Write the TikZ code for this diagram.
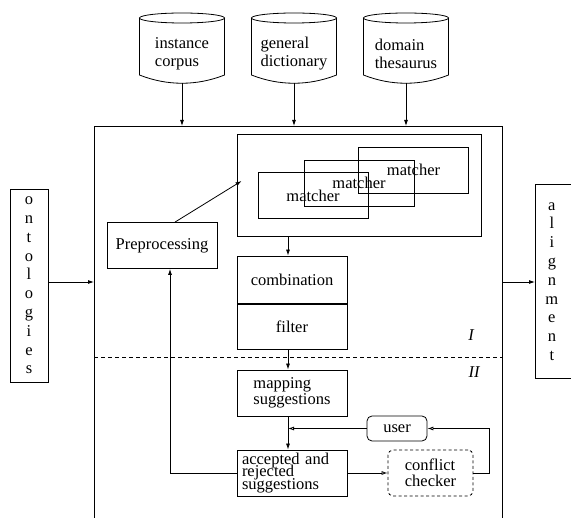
\documentclass[tikz,border=0pt]{standalone}
\usepackage{fontspec}
\setmainfont{Liberation Serif}
\usetikzlibrary{arrows.meta,calc}
\newcommand{\figfont}{\fontsize{16.5}{18}\selectfont}

\begin{document}
\begin{tikzpicture}[x=1pt,y=-1pt,line width=0.8pt,
    >={Latex[length=6pt,width=4pt]},
    every node/.style={font=\figfont},
    stage/.style={draw,inner sep=0pt,minimum width=110,minimum height=46,align=center},
    matcherbox/.style={draw,inner sep=0pt,minimum width=110,minimum height=46},
    vertbox/.style={align=center,font=\fontsize{16.5}{18.8}\selectfont},
    fb/.style={-{Latex[open,length=6pt,width=4pt]}}]
  \useasboundingbox (0,0) rectangle (571,518);

  % knowledge sources
  \foreach \cx/\name/\txt in {182/corpus/{instance\\corpus},294/dict/{general\\dictionary},406/thes/{domain\\thesaurus}}{
    \draw ({\cx-42.5},18) -- ({\cx-42.5},75) .. controls ({\cx-15},86) and ({\cx+15},86) .. ({\cx+42.5},75) -- ({\cx+42.5},18);
    \draw (\cx,18) ellipse [x radius=42.5,y radius=5];
    \node[align=left] (\name) at (\cx,54) {\txt};
    \coordinate (\name-out) at (\cx,83);
  }

  % main frame, open at the bottom
  \node[minimum width=408,minimum height=400,anchor=north west,inner sep=0pt] (frame) at (94,126) {};
  \draw (frame.south west) -- (frame.north west) -- (frame.north east) -- (frame.south east);
  \foreach \name in {corpus,dict,thes}
    \draw[->] (\name-out) -- (\name-out |- frame.north);

  % matchers
  \node[draw,inner sep=0pt,minimum width=244,minimum height=102] (matchers) at (359,185) {};
  \node[matcherbox] (m1) at (313,195.5) {matcher};
  \node[matcherbox] (m2) at (359,183) {matcher};
  \node[matcherbox] (m3) at (413.5,170) {matcher};

  \node[stage] (prep) at (162,245.5) {Preprocessing};
  \node[stage,minimum height=47] (comb) at (292,279.5) {combination};
  \node[stage,minimum height=45] (filter) at (292,326.5) {filter};
  \node[stage,align=left,font=\fontsize{16.5}{16}\selectfont] (map) at (292,393) {mapping\\suggestions};
  \node[stage,align=left,text width=100,inner xsep=5,
        font={\fontsize{16.5}{12.3}\selectfont\lineskiplimit=-20pt}] (acc) at (292,473) {accepted and\\rejected\\suggestions};
  \node[draw,rounded corners=5,inner sep=0pt,minimum width=60,minimum height=25] (user) at (397,428.5) {user};
  \node[draw,dash pattern=on 3pt off 2.5pt,rounded corners=5,inner sep=0pt,minimum width=85,minimum height=46,
        align=left,font=\fontsize{16.5}{16}\selectfont] (check) at (430.5,473) {conflict\\checker};

  % phases
  \coordinate (phase) at (0,357);
  \draw[dash pattern=on 4pt off 3pt] (frame.west |- phase) -- (frame.east |- phase);
  \node[font=\figfont\itshape] (p1) at (471,335) {I};
  \node[font=\figfont\itshape] (p2) at (474,372) {II};

  % input and output
  \coordinate (io) at (0,282);
  \node[draw,vertbox,inner sep=0pt,minimum width=38,minimum height=193] (onto) at (29,285.5) {o\\n\\t\\o\\l\\o\\g\\i\\e\\s};
  \node[vertbox,anchor=west,text width=13,inner xsep=10,inner ysep=0pt,minimum height=193] (alignment) at (535,281.5) {a\\l\\i\\g\\n\\m\\e\\n\\t};
  \draw ([xshift=45]alignment.north west) -- (alignment.north west) -- (alignment.south west) -- ([xshift=45]alignment.south west);
  \draw[->] (onto.east |- io) -- (frame.west |- io);
  \draw[->] (frame.east |- io) -- (alignment.west |- io);

  % flow
  \coordinate (spine) at (288,0);
  \draw[->] ([xshift=13]prep.north) -- ([xshift=5,yshift=4]matchers.west);
  \draw[->] (matchers.south -| spine) -- (comb.north -| spine);
  \draw[->] (filter.south -| spine) -- (map.north -| spine);
  \draw[->] (map.south -| spine) -- (acc.north -| spine);
  \draw[fb] (user.west) -- (user.west -| spine);
  \draw[fb] (acc.east) -- (check.west);
  \draw[fb] (check.east) -- ++(16,0) |- (user.east);
  \draw[->] (acc.west) -| ([xshift=8]prep.south);
\end{tikzpicture}
\end{document}
